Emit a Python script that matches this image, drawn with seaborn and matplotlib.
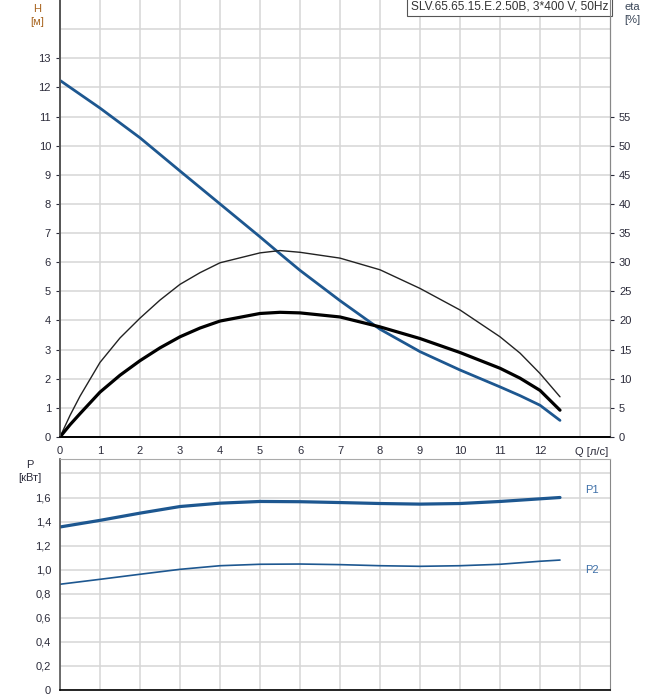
import numpy as np
import pandas as pd
import matplotlib
matplotlib.use("Agg")
import matplotlib.pyplot as plt
import seaborn as sns

# curve readings (Q in l/s)
q_h = [0, 1, 2, 3, 4, 5, 5.5, 6, 7, 8, 9, 10, 11, 11.5, 12, 12.5]
head = [12.24, 11.29, 10.27, 9.13, 8.0, 6.87, 6.29, 5.72, 4.68, 3.70, 2.93, 2.30, 1.72, 1.42, 1.09, 0.57]

q_eta = [0, 0.25, 0.5, 1, 1.5, 2, 2.5, 3, 3.5, 4, 5, 5.5, 6, 7, 8, 9, 10, 11, 11.5, 12, 12.5]
eta_hyd = [0, 3.7, 7.0, 12.8, 17.0, 20.4, 23.5, 26.2, 28.2, 29.9, 31.6, 32.0, 31.7, 30.7, 28.7, 25.5, 21.8, 17.2, 14.4, 10.9, 6.9]
eta_tot = [0, 2.1, 4.0, 7.7, 10.6, 13.1, 15.3, 17.2, 18.7, 19.9, 21.2, 21.4, 21.3, 20.6, 18.9, 16.9, 14.5, 11.8, 10.1, 8.0, 4.6]

q_p = [0, 1, 2, 3, 4, 5, 6, 7, 8, 9, 10, 11, 12, 12.5]
p1 = [1.355, 1.41, 1.47, 1.525, 1.553, 1.567, 1.565, 1.558, 1.55, 1.545, 1.55, 1.567, 1.589, 1.60]
p2 = [0.879, 0.92, 0.962, 1.003, 1.033, 1.045, 1.047, 1.042, 1.033, 1.028, 1.033, 1.045, 1.07, 1.08]

title = "SLV.65.65.15.E.2.50B, 3*400 V, 50Hz"

sns.set_style("white")
plt.rcParams['font.family'] = ['Liberation Sans', 'DejaVu Sans']
plt.rcParams['font.size'] = 8

blue = "#1d5790"
tick_col = "#2b2b3a"
grid_col = "#d6d6d6"

fig = plt.figure(figsize=(6.58, 7.0), dpi=100)
ax = fig.add_axes([60/658, 1-437/700, 550/658, 437/700])
ax2 = ax.twinx()
axp = fig.add_axes([60/658, 10/700, 550/658, 231/700])

df_h = pd.DataFrame({"Q": q_h, "H": head})
df_e = pd.DataFrame({"Q": q_eta, "hyd": eta_hyd, "tot": eta_tot})
df_p = pd.DataFrame({"Q": q_p, "P1": p1, "P2": p2})

# top panel
sns.lineplot(data=df_h, x="Q", y="H", ax=ax, color=blue, lw=2.0, zorder=5)
sns.lineplot(data=df_e, x="Q", y="hyd", ax=ax2, color="#222222", lw=1.0)
sns.lineplot(data=df_e, x="Q", y="tot", ax=ax2, color="black", lw=2.3)

xmax = 13.75
for a in (ax, axp):
    a.set_xlim(0, xmax)
    a.set_xticks(range(0, 13))
    a.grid(True, color=grid_col, lw=1.1)
    a.axvline(13, color=grid_col, lw=1.1, zorder=0)
    a.set_axisbelow(True)
    a.set_xlabel("")
    a.set_ylabel("")
    a.tick_params(colors=tick_col, labelsize=8, length=3, width=0.8)

ax.set_ylim(0, 15)
ax.set_yticks(range(0, 14))
ax.axhline(14, color=grid_col, lw=1.1, zorder=0)
ax2.set_ylim(0, 75)
ax2.set_yticks(range(0, 60, 5))
ax2.set_ylabel("")
ax2.tick_params(colors=tick_col, labelsize=8, length=3, width=0.8)
ax2.grid(False)

for a in (ax, ax2):
    a.spines['top'].set_visible(False)
    a.spines['left'].set_color("#555555")
    a.spines['bottom'].set_color("black")
    a.spines['right'].set_color("#888888")
    a.spines['bottom'].set_linewidth(1.2)
    a.spines['left'].set_linewidth(1.2)

ax.text(0.997, 0.999, title, transform=ax.transAxes, ha="right", va="top",
        fontsize=8.6, color="#333333",
        bbox=dict(boxstyle="square,pad=0.3", fc="white", ec="#555555", lw=0.8), zorder=10)

# bottom panel
sns.lineplot(data=df_p, x="Q", y="P1", ax=axp, color=blue, lw=2.3)
sns.lineplot(data=df_p, x="Q", y="P2", ax=axp, color=blue, lw=1.2)
axp.set_ylim(0, 1.92)
axp.set_yticks(np.arange(0, 1.61, 0.2))
axp.set_yticklabels(["0", "0,2", "0,4", "0,6", "0,8", "1,0", "1,2", "1,4", "1,6"])
axp.axhline(1.8, color=grid_col, lw=1.1, zorder=0)
axp.set_xticklabels([])
axp.tick_params(axis="x", length=0)
axp.spines['top'].set_color("#aaaaaa")
axp.spines['right'].set_color("#888888")
axp.spines['left'].set_color("#555555")
axp.spines['bottom'].set_color("black")
axp.spines['left'].set_linewidth(1.2)
axp.spines['bottom'].set_linewidth(1.2)
axp.set_xlabel("")
axp.set_ylabel("")

# axis labels in pixel positions
def px(x, y):
    return x / 658, 1 - y / 700

fig.text(*px(37, 4), "H\n[м]", ha="center", va="top", color="#a8641e", fontsize=8, linespacing=1.4)
fig.text(*px(632, 2), "eta\n[%]", ha="center", va="top", color="#3a4658", fontsize=8, linespacing=1.4)
fig.text(*px(592, 452), "Q [л/с]", ha="center", va="center", color=tick_col, fontsize=8)
fig.text(*px(30, 460), "P\n[кВт]", ha="center", va="top", color=tick_col, fontsize=8, linespacing=1.4)
fig.text(*px(592, 490), "P1", ha="center", va="center", color="#3d6fa8", fontsize=8)
fig.text(*px(592, 570), "P2", ha="center", va="center", color="#3d6fa8", fontsize=8)

fig.savefig("out.png", dpi=100)
